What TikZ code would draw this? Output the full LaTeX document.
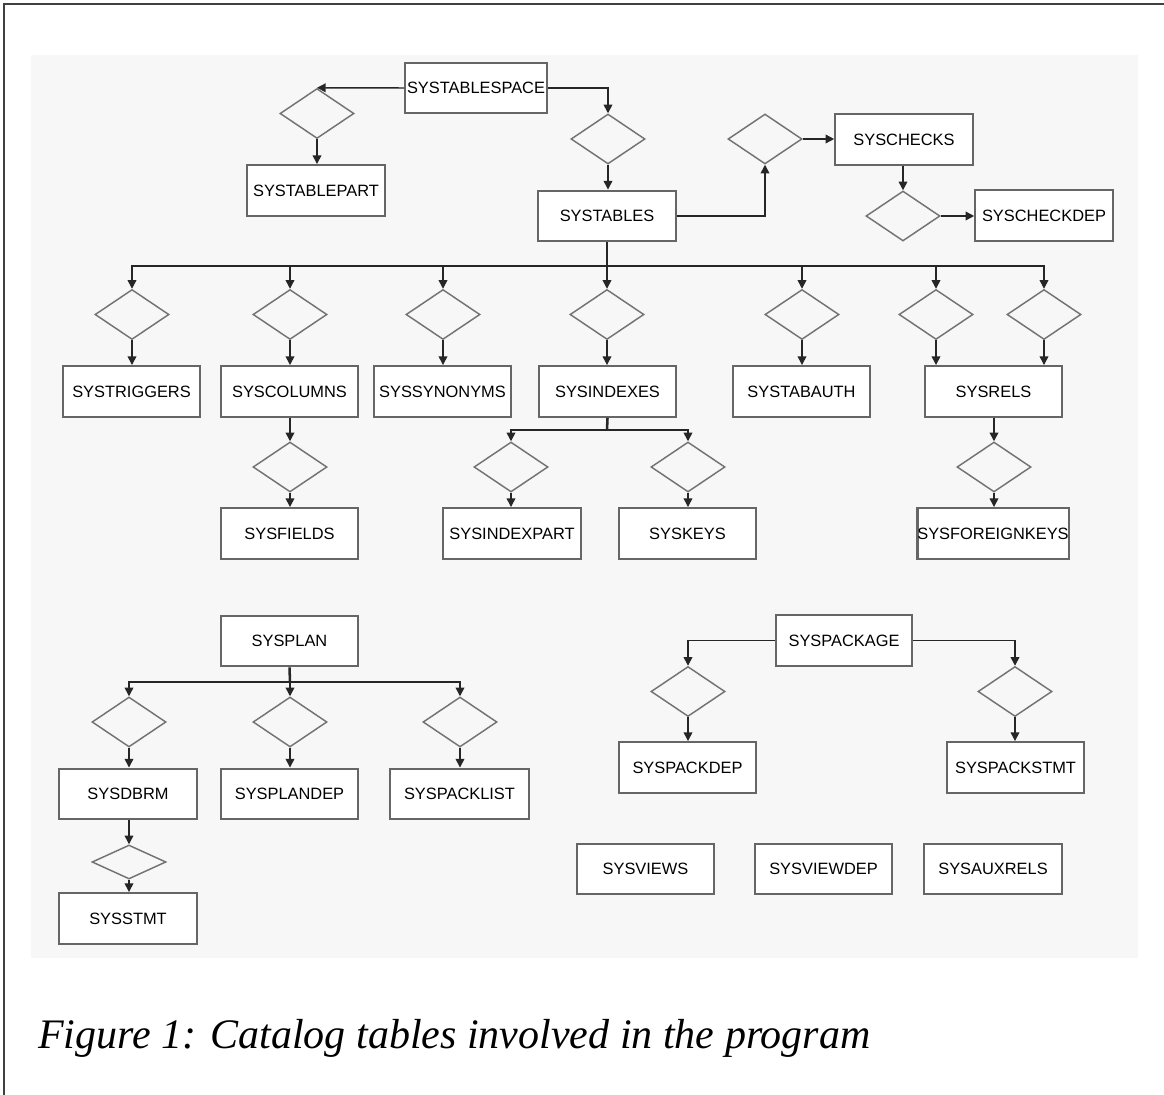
\documentclass[tikz,border=0pt]{standalone}
\usepackage{fontspec}
\setmainfont{Liberation Serif}
\setsansfont{Liberation Sans}
\usepackage{tikz}
\usetikzlibrary{arrows.meta, positioning, calc, shapes.geometric}

\begin{document}
\begin{tikzpicture}[
  x=0.75pt, y=-0.75pt,
  arrow/.style={-{Triangle[length=6.5pt, width=6.5pt]}, line width=1.1pt, draw=black!85},
  link/.style={line width=1.9pt, draw=black!85},
  block/.style={draw=black!60, fill=white, rectangle, line width=1.7pt, minimum width=103pt, minimum height=38pt, inner sep=0pt, font=\sffamily\fontsize{12.3}{14}\selectfont},
  rel/.style={draw=black!55, diamond, line width=1.1pt, minimum width=55.5pt, minimum height=37.5pt, inner sep=0pt}
]
  \useasboundingbox (0,0) rectangle (1164,1095);

  % page frame and grey picture area
  \fill[black!3] (31,55) rectangle (1138,958);
  \draw[line width=1.2pt, black!75] (4,1095) -- (4,4) -- (1164,4);

  % SYSTABLESPACE and SYSTABLES
  \node (tblspace) [block, minimum width=106pt] at (476,88) {SYSTABLESPACE};
  \node (dPart) [rel] at (317,113.5) {};
  \node (tblpart) [block] at (316,190.5) {SYSTABLEPART};
  \node (dTab) [rel] at (608,139) {};
  \node (tables) [block] at (607,216) {SYSTABLES};

  % check constraints
  \node (dChk) [rel] at (765,139) {};
  \node (checks) [block] at (904,139.5) {SYSCHECKS};
  \node (dChkDep) [rel] at (903,216) {};
  \node (checkdep) [block] at (1044,215.5) {SYSCHECKDEP};

  % tables hanging off SYSTABLES
  \node (dTrig) [rel] at (132,314.5) {};
  \node (dCol) [rel] at (290,314.5) {};
  \node (dSyn) [rel] at (443,314.5) {};
  \node (dIdx) [rel] at (607,314.5) {};
  \node (dAuth) [rel] at (802,314.5) {};
  \node (dRelA) [rel] at (936,314.5) {};
  \node (dRelB) [rel] at (1044,314.5) {};

  \node (triggers) [block] at (131.5,391.5) {SYSTRIGGERS};
  \node (columns) [block] at (289.5,391.5) {SYSCOLUMNS};
  \node (synonyms) [block] at (442.5,391.5) {SYSSYNONYMS};
  \node (indexes) [block] at (607.5,391.5) {SYSINDEXES};
  \node (tabauth) [block] at (801.5,391.5) {SYSTABAUTH};
  \node (rels) [block] at (993.5,391.5) {SYSRELS};

  \node (dFld) [rel] at (290,467) {};
  \node (dIpart) [rel] at (511,467) {};
  \node (dKeys) [rel] at (688,467) {};
  \node (dFkey) [rel] at (994,467) {};

  \node (fields) [block] at (289.5,533.5) {SYSFIELDS};
  \node (ipart) [block] at (512,533.5) {SYSINDEXPART};
  \node (keys) [block] at (687.5,533.5) {SYSKEYS};
  \node (fkeys) [block, minimum width=112.5pt] at (993,533.5) {SYSFOREIGNKEYS};

  % plans
  \node (plan) [block] at (289.5,641) {SYSPLAN};
  \node (dDbrm) [rel] at (129,722) {};
  \node (dPdep) [rel] at (290,722) {};
  \node (dPlist) [rel] at (460,722) {};
  \node (dbrm) [block] at (128,794) {SYSDBRM};
  \node (plandep) [block] at (289.5,794) {SYSPLANDEP};
  \node (packlist) [block, minimum width=104pt] at (459.5,794) {SYSPACKLIST};
  \node (dStmt) [rel, minimum height=25.5pt] at (129,862) {};
  \node (stmt) [block] at (128,918.5) {SYSSTMT};

  % packages
  \node (package) [block, minimum width=102pt] at (844,640.5) {SYSPACKAGE};
  \node (dPkdep) [rel] at (688,691.5) {};
  \node (dPkstmt) [rel] at (1015,691.5) {};
  \node (packdep) [block] at (687.5,767.5) {SYSPACKDEP};
  \node (packstmt) [block] at (1015.5,767.5) {SYSPACKSTMT};

  % views and aux tables (no links)
  \node (views) [block] at (645.5,869) {SYSVIEWS};
  \node (viewdep) [block] at (823.5,869) {SYSVIEWDEP};
  \node (auxrels) [block] at (993,869) {SYSAUXRELS};

  % arrows
  \draw[arrow] (tblspace.west) -- (dPart.north);
  \draw[arrow] (dPart.south) -- (dPart.south |- tblpart.north);
  \draw[arrow] (tblspace.east) -| (dTab.north);
  \draw[arrow] (dTab.south) -- (dTab.south |- tables.north);

  \draw[arrow] (tables.east) -| (dChk.south);
  \draw[arrow] (dChk.east) -- (dChk.east -| checks.west);
  \draw[arrow] (dChkDep.north |- checks.south) -- (dChkDep.north);
  \draw[arrow] (dChkDep.east) -- (dChkDep.east -| checkdep.west);

  \coordinate (tbus) at (607,266);
  \draw[link] (tables.south) -- (tbus);
  \foreach \d in {dTrig, dCol, dSyn, dIdx, dAuth, dRelA, dRelB}
    \draw[arrow] (tbus) -| (\d.north);
  \foreach \d/\b in {dTrig/triggers, dCol/columns, dSyn/synonyms, dIdx/indexes, dAuth/tabauth, dRelA/rels, dRelB/rels}
    \draw[arrow] (\d.south) -- (\d.south |- \b.north);

  \draw[arrow] (dFld.north |- columns.south) -- (dFld.north);
  \draw[arrow] (dFld.south) -- (dFld.south |- fields.north);
  \coordinate (ibus) at (607,430);
  \draw[link] (indexes.south) -- (ibus);
  \draw[arrow] (ibus) -| (dIpart.north);
  \draw[arrow] (ibus) -| (dKeys.north);
  \draw[arrow] (dIpart.south) -- (dIpart.south |- ipart.north);
  \draw[arrow] (dKeys.south) -- (dKeys.south |- keys.north);
  \draw[arrow] (dFkey.north |- rels.south) -- (dFkey.north);
  \draw[arrow] (dFkey.south) -- (dFkey.south |- fkeys.north);

  \coordinate (pbus) at (290,682);
  \draw[link] (plan.south) -- (pbus);
  \foreach \d/\b in {dDbrm/dbrm, dPdep/plandep, dPlist/packlist} {
    \draw[arrow] (pbus) -| (\d.north);
    \draw[arrow] (\d.south) -- (\d.south |- \b.north);
  }
  \draw[arrow] (dStmt.north |- dbrm.south) -- (dStmt.north);
  \draw[arrow] (dStmt.south) -- (dStmt.south |- stmt.north);

  \draw[arrow] (package.west) -| (dPkdep.north);
  \draw[arrow] (package.east) -| (dPkstmt.north);
  \draw[arrow] (dPkdep.south) -- (dPkdep.south |- packdep.north);
  \draw[arrow] (dPkstmt.south) -- (dPkstmt.south |- packstmt.north);

  % caption
  \node (caption) [anchor=base west, inner sep=0pt, font=\itshape\fontsize{31.5}{36}\selectfont] at (38,1048) {Figure 1: Catalog tables involved in the program};

\end{tikzpicture}
\end{document}
